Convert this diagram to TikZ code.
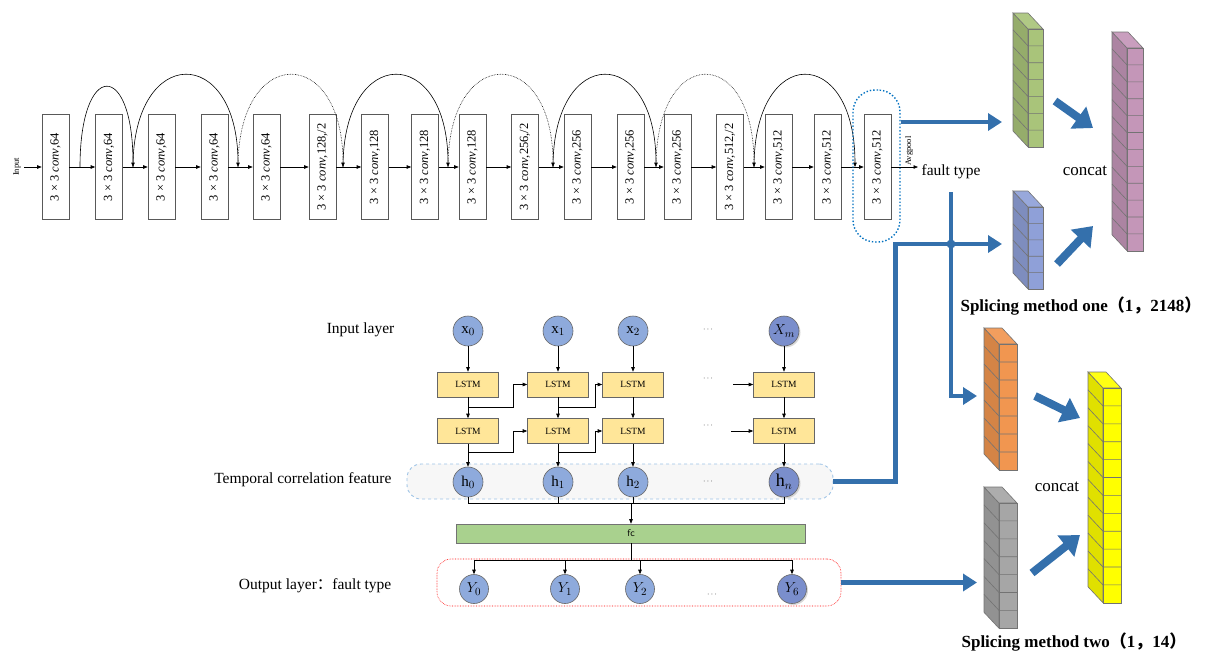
\documentclass[tikz,border=0pt]{standalone}
\usepackage{fontspec}
\setmainfont{Liberation Serif}
\newfontfamily\cjk{Noto Sans CJK SC}
\usetikzlibrary{arrows.meta,calc,shadows}

\definecolor{tblue}{RGB}{52,112,172}
\definecolor{cellgreen}{RGB}{169,196,122}
\definecolor{cellpink}{RGB}{196,150,184}
\definecolor{cellblue}{RGB}{143,160,216}
\definecolor{cellorange}{RGB}{241,150,80}
\definecolor{cellgray}{RGB}{166,166,166}
\definecolor{cellyellow}{RGB}{255,255,0}
\definecolor{lstmfill}{RGB}{255,230,153}
\definecolor{fcfill}{RGB}{169,209,142}
\definecolor{nodeblue}{RGB}{142,170,220}
\definecolor{nodedark}{RGB}{122,142,204}
\definecolor{featline}{RGB}{157,195,230}
\definecolor{poolline}{RGB}{0,112,192}

% feature column: front face top-left (#1,#2), width #3, #4 cells of height #5, colour #6
\newcommand{\featcol}[6]{%
  \pgfmathsetmacro{\fbot}{#2+#4*#5}%
  \pgfmathtruncatemacro{\flines}{#4-1}%
  \filldraw[draw=black!55, fill=#6!88!black] (#1,#2) -- ++(-15,-16) -- (#1-15,\fbot-16) -- (#1,\fbot) -- cycle;
  \filldraw[draw=black!55, fill=#6!92!white] (#1,#2) -- (#1+#3,#2) -- ++(-15,-16) -- ++(-#3,0) -- cycle;
  \filldraw[draw=black!55, fill=#6] (#1,#2) rectangle (#1+#3,\fbot);
  \foreach \k in {1,...,\flines}
    \draw[black!55] (#1+#3,#2+\k*#5) -- (#1,#2+\k*#5) -- ++(-15,-16);
}

\tikzset{
  convbox/.style={draw=black!65, minimum width=27pt, minimum height=105pt, inner sep=0pt,
    font=\fontsize{12.5}{12.5}\selectfont},
  lstm/.style={draw=black!60, fill=lstmfill, minimum width=61pt, minimum height=25pt,
    inner sep=0pt, font=\fontsize{9.5}{9.5}\selectfont},
  neuron/.style={circle, draw=black!60, fill=nodeblue, minimum size=30pt, inner sep=0pt,
    font=\fontsize{15}{15}\selectfont},
  lastneuron/.style={neuron, fill=nodedark,
    drop shadow={shadow xshift=1.5pt, shadow yshift=-1.5pt, opacity=0.3}},
  sidetext/.style={anchor=east, font=\fontsize{15.5}{15.5}\selectfont},
  dots/.style={font=\fontsize{8}{8}\selectfont},
  thickarr/.style={draw=tblue, line width=4.5pt, -{Triangle[length=14pt,width=17pt]}},
  fatarr/.style={draw=tblue, line width=8pt, -{Triangle[length=18pt,width=26pt]}},
}

\begin{document}
\begin{tikzpicture}[x=1pt, y=-1pt, line width=0.6pt, >={Triangle[length=4.5pt,width=3.5pt]}]
    \useasboundingbox (0,0) rectangle (1208,654);
    % conv stack
    \node (inp) at (17,167) {\rotatebox{90}{\fontsize{8.5}{8.5}\selectfont Input}};
    \foreach \cx/\ch [count=\i] in {55.5/64, 109/64, 161.5/64, 214.5/64, 266.5/64,
        322.5/{128,/2}, 375/128, 425/128, 472.5/128, 525/{256,/2}, 577.5/256, 630.5/256,
        677.5/256, 730/{512,/2}, 778.5/512, 827.5/512, 877.5/512}
      \node[convbox] (c\i) at (\cx,167) {\rotatebox{90}{3 × 3 \textit{conv},\ch}};
    \draw[->] (inp) -- (c1);
    \foreach \i in {1,...,16}{
      \pgfmathtruncatemacro{\j}{\i+1}
      \draw[->] (c\i) -- (c\j);
    }
    % shortcut arcs
    \coordinate (k0) at (80,167);
    \coordinate (k1) at (133,167);
    \coordinate (k2) at (238,167);
    \coordinate (k3) at (343,167);
    \coordinate (k4) at (448,167);
    \coordinate (k5) at (553,167);
    \coordinate (k6) at (656,167);
    \coordinate (k7) at (754,167);
    \coordinate (k8) at (855,167);
    \draw[->] (k0) .. controls ($(k0)+(0,-107)$) and ($(k1)+(0,-107)$) .. (k1);
    \draw[->] (k1) .. controls ($(k1)+(0,-123)$) and ($(k2)+(0,-123)$) .. (k2);
    \draw[->, densely dotted] (k2) .. controls ($(k2)+(0,-123)$) and ($(k3)+(0,-123)$) .. (k3);
    \draw[->] (k3) .. controls ($(k3)+(0,-123)$) and ($(k4)+(0,-123)$) .. (k4);
    \draw[->, densely dotted] (k4) .. controls ($(k4)+(0,-123)$) and ($(k5)+(0,-123)$) .. (k5);
    \draw[->] (k5) .. controls ($(k5)+(0,-123)$) and ($(k6)+(0,-123)$) .. (k6);
    \draw[->, densely dotted] (k6) .. controls ($(k6)+(0,-123)$) and ($(k7)+(0,-123)$) .. (k7);
    \draw[->] (k7) .. controls ($(k7)+(0,-123)$) and ($(k8)+(0,-123)$) .. (k8);
    % pooling and output
    \node[draw=poolline, line width=1.4pt, dotted, rounded corners=22pt,
      minimum width=47pt, minimum height=152pt] (pbox) at (876.5,166) {};
    \node (pool) at (909,151) {\rotatebox{90}{\fontsize{8.5}{8.5}\selectfont Avgpool}};
    \node[anchor=west, font=\fontsize{15.5}{15.5}\selectfont] (fault) at (918,172) {fault type};
    \draw[->] (c17) -- (fault.west |- c17);

    % LSTM branch
    \node[sidetext] (inlab) at (398,330) {Input layer};
    \node[sidetext] (featlab) at (395,480) {Temporal correlation feature};
    \node[sidetext] (outlab) at (395,586) {Output layer{\cjk ：}fault type};
    \node[draw=featline, dashed, fill=gray!6, line width=0.9pt, rounded corners=14pt,
      minimum width=426pt, minimum height=35pt] (tbox) at (620,481.5) {};
    \node[draw=red, densely dotted, rounded corners=14pt,
      minimum width=404pt, minimum height=47pt] (obox) at (639,582.5) {};
    \node[neuron] (x0) at (468,331) {$\mathrm{x}_0$};
    \node[neuron] (x1) at (558,331) {$\mathrm{x}_1$};
    \node[neuron] (x2) at (633,331) {$\mathrm{x}_2$};
    \node[lastneuron] (xn) at (784,331) {$X_m$};
    \foreach \c/\cx in {0/468, 1/558, 2/633, n/784}{
      \node[lstm] (la\c) at (\cx,384.5) {LSTM};
      \node[lstm] (lb\c) at (\cx,431) {LSTM};
    }
    \node[neuron] (h0) at (468,482) {$\mathrm{h}_0$};
    \node[neuron] (h1) at (558,482) {$\mathrm{h}_1$};
    \node[neuron] (h2) at (633,482) {$\mathrm{h}_2$};
    \node[lastneuron, font=\fontsize{18}{18}\selectfont] (hn) at (784,482) {$\mathrm{h}_n$};
    \node[dots] (dx) at (708,330) {$\cdots$};
    \node[dots] (da) at (708,379) {$\cdots$};
    \node[dots] (db) at (708,426) {$\cdots$};
    \node[dots] (dh) at (708,482) {$\cdots$};
    % vertical flow
    \foreach \c in {0,1,2,n}{
      \draw[->] (x\c) -- (la\c);
      \draw[->] (la\c) -- (lb\c);
      \draw[->] (lb\c) -- (h\c);
    }
    % recurrent links
    \draw[->] ($(la0.south)!0.5!(lb0.north)$) -| ($(la0.east)!0.5!(la1.west)$) -- (la1);
    \draw[->] ($(la1.south)!0.5!(lb1.north)$) -| ($(la1.east)!0.5!(la2.west)$) -- (la2);
    \draw[->] ($(lb0.south)+(0,8)$) -| ($(lb0.east)!0.5!(lb1.west)$) -- (lb1);
    \draw[->] ($(lb1.south)+(0,8)$) -| ($(lb1.east)!0.5!(lb2.west)$) -- (lb2);
    \coordinate (ra) at (733,384.5);
    \coordinate (rb) at (731,431);
    \draw[->] (ra) -- (lan);
    \draw[->] (rb) -- (lbn);
    % fully connected layer
    \coordinate (hbus) at (631,503);
    \draw (h0) -- (h0 |- hbus) -- (hn |- hbus) -- (hn);
    \draw (h1) -- (h1 |- hbus);
    \draw (h2) -- (h2 |- hbus);
    \node[draw=black!55, fill=fcfill, minimum width=349pt, minimum height=19pt, inner sep=0pt,
      font=\sffamily\fontsize{10}{10}\selectfont] (fc) at (631,533.5) {fc};
    \draw[->] (hbus) -- (fc);
    \node[neuron, minimum size=29pt] (y0) at (474,589) {$Y_0$};
    \node[neuron, minimum size=29pt] (y1) at (565,589) {$Y_1$};
    \node[neuron, minimum size=29pt] (y2) at (640,589) {$Y_2$};
    \node[lastneuron, minimum size=29pt] (y6) at (792,589) {$Y_6$};
    \node[dots] (dy) at (712,595) {$\cdots$};
    \coordinate (ybus) at (631,560);
    \draw (fc) -- (ybus);
    \draw (ybus -| y0) -- (ybus -| y6);
    \foreach \y in {y0,y1,y2,y6}
      \draw[->] (ybus -| \y) -- (\y);

    % feature columns
    \featcol{1028}{29}{15}{7}{16.86}{cellgreen}
    \featcol{1127}{48}{16}{12}{16.9}{cellpink}
    \featcol{1028}{207}{15}{5}{16.4}{cellblue}
    \featcol{999}{344}{18}{7}{18}{cellorange}
    \featcol{999}{503}{18}{7}{17.9}{cellgray}
    \featcol{1103}{388}{18}{12}{17.9}{cellyellow}
    \node[font=\fontsize{17}{17}\selectfont] (cat1) at (1085,171) {concat};
    \node[font=\fontsize{17}{17}\selectfont] (cat2) at (1057,487) {concat};
    \node[font=\bfseries\fontsize{17}{17}\selectfont] (sp1) at (1081,306)
      {Splicing method one{\cjk （}1{\cjk ，}2148{\cjk ）}};
    \node[font=\bfseries\fontsize{17}{17}\selectfont] (sp2) at (1074,642)
      {Splicing method two{\cjk （}1{\cjk ，}14{\cjk ）}};

    % feature routing
    \coordinate (gin) at (1002,122);
    \coordinate (bin) at (1002,244);
    \coordinate (oin) at (977,396);
    \coordinate (yin) at (977,582.5);
    \coordinate (fdown) at (951,192);
    \draw[thickarr] (gin -| pbox.east) -- (gin);
    \draw[thickarr] (fdown) |- (oin);
    \draw[thickarr] (tbox.east) -- ++(62,0) |- (bin);
    \fill[tblue] (fdown |- bin) circle (4.5pt);
    \draw[thickarr] (obox.east) -- (yin);
    % concat arrows
    \coordinate (ga) at (1055,101);
    \coordinate (gb) at (1093,128);
    \coordinate (ba) at (1057,264);
    \coordinate (bb) at (1093,226);
    \coordinate (oa) at (1035,396);
    \coordinate (ob) at (1080,418);
    \coordinate (ya) at (1032,573);
    \coordinate (yb) at (1080,535);
    \draw[fatarr] (ga) -- (gb);
    \draw[fatarr] (ba) -- (bb);
    \draw[fatarr] (oa) -- (ob);
    \draw[fatarr] (ya) -- (yb);
\end{tikzpicture}
\end{document}
